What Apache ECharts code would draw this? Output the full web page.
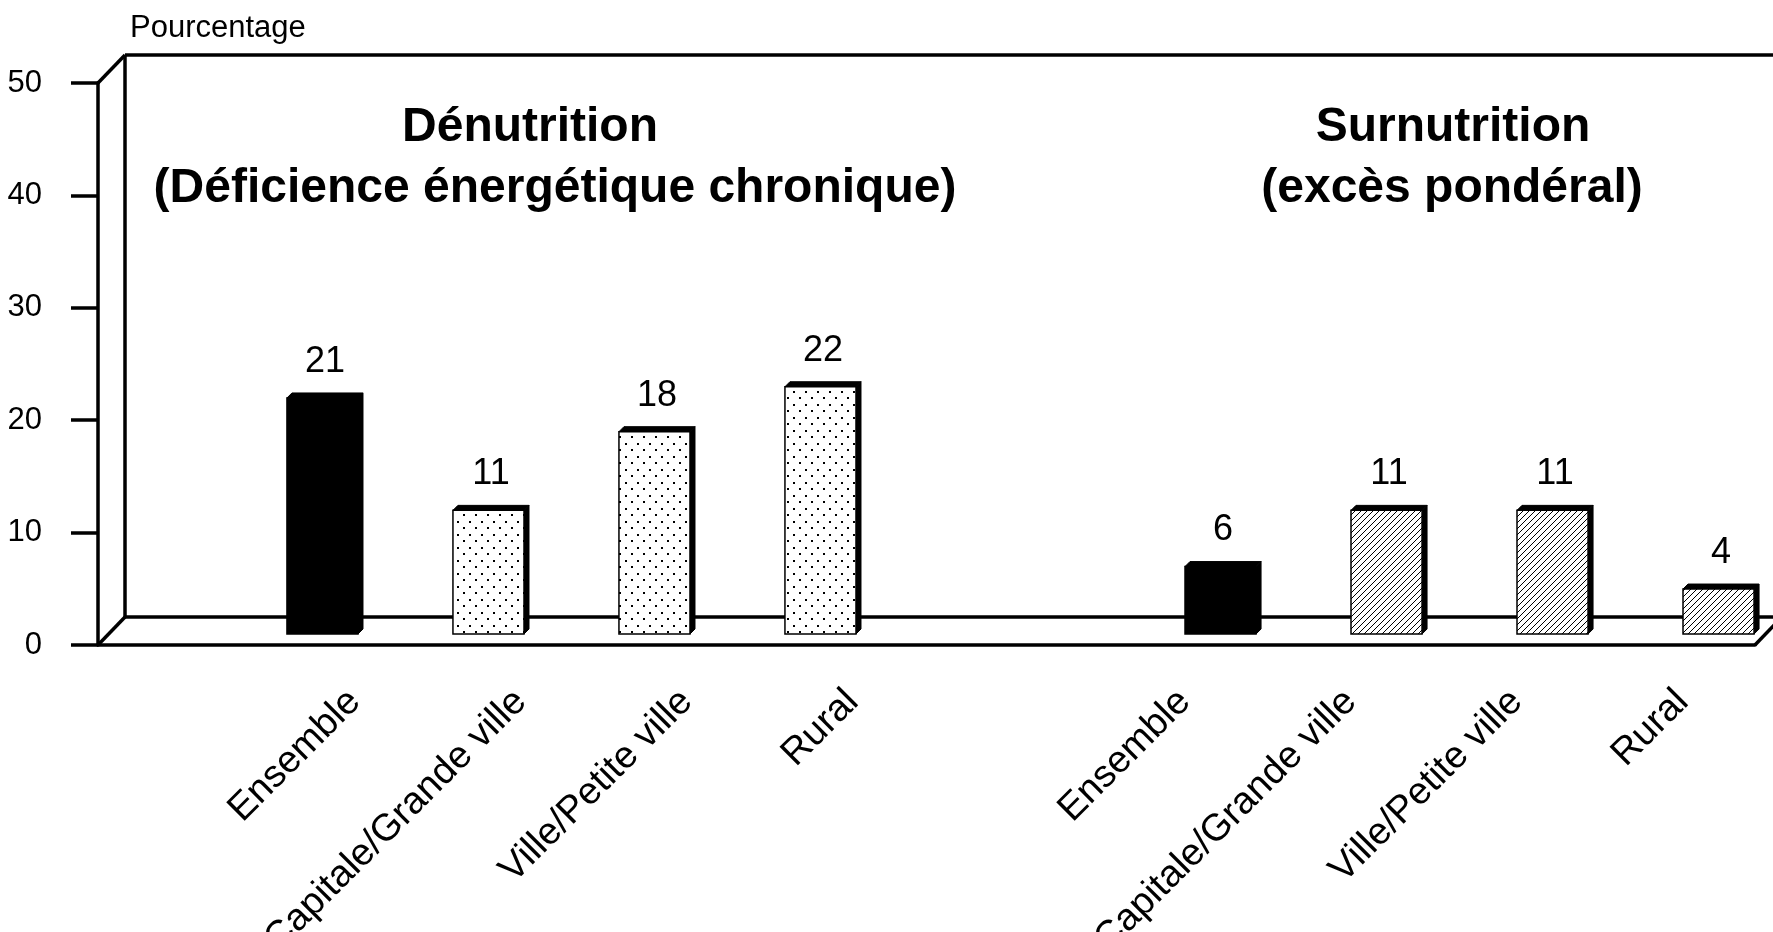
<!DOCTYPE html>
<html><head><meta charset="utf-8">
<script src="https://cdn.jsdelivr.net/npm/echarts@6/dist/echarts.min.js"></script>
<style>html,body{margin:0;padding:0;background:#fff}#c{width:1773px;height:932px}</style>
</head><body><div id="c"></div>
<script>
// ---- data ----
const categories = ['Ensemble', 'Capitale/Grande ville', 'Ville/Petite ville', 'Rural'];
const groupTitles = ['Dénutrition', 'Surnutrition'];
const groupSubtitles = ['(Déficience énergétique chronique)', '(excès pondéral)'];
const denutrition = [21, 11, 18, 22];
const surnutrition = [6, 11, 11, 4];
const yTicks = [0, 10, 20, 30, 40, 50];
const yAxisName = 'Pourcentage';

// ---- layout constants ----
const FONT = '"Liberation Sans", Arial, Helvetica, sans-serif';
const X_MIN = -1.286, X_MAX = 8.696;
const BAR_GROUP_OFFSET = 5.41;   // bars of 2nd group
const LABEL_GROUP_OFFSET = 5;    // labels of 2nd group
const BAR_W = 0.428;
const PLANE = [11, -11];         // bars sit mid-depth
const DEPTH = [27, -28];         // box depth
const BAR_D = 5;                 // bar depth
const LW = 3.5;

function makeDots() {
  const w = 12, h = 13;
  const c = document.createElement('canvas'); c.width = w; c.height = h;
  const x = c.getContext('2d'); x.fillStyle = '#fff'; x.fillRect(0, 0, w, h);
  x.fillStyle = '#000'; x.fillRect(1, 1, 2, 2); x.fillRect(7, 7, 2, 2);
  return c;
}
function makeHatch() {
  const s = 6; const c = document.createElement('canvas'); c.width = s; c.height = s;
  const x = c.getContext('2d'); x.fillStyle = '#fff'; x.fillRect(0, 0, s, s);
  x.strokeStyle = '#000'; x.lineWidth = 1; x.beginPath();
  x.moveTo(0, s); x.lineTo(s, 0); x.moveTo(-1, 1); x.lineTo(1, -1); x.moveTo(s - 1, s + 1); x.lineTo(s + 1, s - 1);
  x.stroke(); return c;
}
const dotPattern = { image: makeDots(), repeat: 'repeat' };
const hatchPattern = { image: makeHatch(), repeat: 'repeat' };

const series = [denutrition, surnutrition];
const barData = [], labelData = [];
series.forEach((vals, g) => vals.forEach((v, c) => {
  barData.push([c + g * BAR_GROUP_OFFSET, v, g, c]);
  labelData.push([c + g * LABEL_GROUP_OFFSET, 0, g, c]);
}));

function renderFrame(params, api) {
  const top = yTicks[yTicks.length - 1];
  const a0 = api.coord([X_MIN, 0]), a50 = api.coord([X_MIN, top]);
  const b0 = api.coord([X_MAX, 0]), b50 = api.coord([X_MAX, top]);
  const sh = p => [p[0] + DEPTH[0], p[1] + DEPTH[1]];
  const line = (p, q) => ({ type: 'line', shape: { x1: p[0], y1: p[1], x2: q[0], y2: q[1] }, style: { stroke: '#000', lineWidth: LW } });
  return { type: 'group', children: [
    line(a0, sh(a0)), line(a50, sh(a50)), line(b0, sh(b0)),
    line(sh(a0), sh(a50)), line(sh(a50), sh(b50)), line(sh(a0), sh(b0))
  ] };
}

function renderBar(params, api) {
  const pos = api.value(0), v = api.value(1), g = api.value(2), c = api.value(3);
  const tl = api.coord([pos - BAR_W / 2, v]);
  const br = api.coord([pos + BAR_W / 2, 0]);
  const x0 = tl[0] + PLANE[0], x1 = br[0] + PLANE[0], y0 = tl[1] + PLANE[1], y1 = br[1] + PLANE[1];
  const d = BAR_D;
  const fill = c === 0 ? '#000' : (g === 0 ? dotPattern : hatchPattern);
  return { type: 'group', children: [
    { type: 'polygon', shape: { points: [[x0, y0], [x0 + d, y0 - d], [x1 + d, y0 - d], [x1, y0]] }, style: { fill: '#000', stroke: '#000', lineWidth: 1 } },
    { type: 'polygon', shape: { points: [[x1, y0], [x1 + d, y0 - d], [x1 + d, y1 - d], [x1, y1]] }, style: { fill: '#000', stroke: '#000', lineWidth: 1 } },
    { type: 'rect', shape: { x: x0, y: y0, width: x1 - x0, height: y1 - y0 }, style: { fill: fill, stroke: '#000', lineWidth: 1.5 } },
    { type: 'text', style: { text: String(v), x: (x0 + x1 + d) / 2, y: y0 - d - 13, align: 'center', verticalAlign: 'bottom', font: '36px ' + FONT, fill: '#000' } }
  ] };
}

function renderCatLabel(params, api) {
  const pos = api.value(0), c = api.value(3);
  const p = api.coord([pos, 0]);
  return { type: 'text', x: p[0] + 43, y: p[1] + 51, rotation: Math.PI / 4,
    style: { text: categories[c], x: 0, y: 0, align: 'right', verticalAlign: 'middle', font: '38px ' + FONT, fill: '#000' } };
}

const chart = echarts.init(document.getElementById('c'), null, { renderer: 'canvas' });
chart.setOption({
  backgroundColor: '#fff',
  animation: false,
  grid: { left: 98, right: 18, top: 83, bottom: 287, containLabel: false },
  xAxis: { type: 'value', min: X_MIN, max: X_MAX, axisLine: { show: true, onZero: false, lineStyle: { color: '#000', width: LW } },
    axisTick: { show: false }, axisLabel: { show: false }, splitLine: { show: false } },
  yAxis: { type: 'value', min: yTicks[0], max: yTicks[yTicks.length - 1], interval: 10,
    axisLine: { show: true, onZero: false, lineStyle: { color: '#000', width: LW } },
    axisTick: { show: true, length: 27, lineStyle: { color: '#000', width: LW } },
    axisLabel: { margin: 56, fontSize: 31, color: '#000', fontFamily: FONT },
    splitLine: { show: false } },
  graphic: [
    { type: 'text', left: 130, top: 13, style: { text: yAxisName, font: '31px ' + FONT, fill: '#000' } },
    { type: 'text', x: 530, y: 128, style: { text: groupTitles[0], align: 'center', verticalAlign: 'middle', font: 'bold 48px ' + FONT, fill: '#000' } },
    { type: 'text', x: 555, y: 189, style: { text: groupSubtitles[0], align: 'center', verticalAlign: 'middle', font: 'bold 48px ' + FONT, fill: '#000' } },
    { type: 'text', x: 1453, y: 128, style: { text: groupTitles[1], align: 'center', verticalAlign: 'middle', font: 'bold 48px ' + FONT, fill: '#000' } },
    { type: 'text', x: 1452, y: 189, style: { text: groupSubtitles[1], align: 'center', verticalAlign: 'middle', font: 'bold 48px ' + FONT, fill: '#000' } }
  ],
  series: [
    { type: 'custom', name: 'frame', renderItem: renderFrame, data: [[X_MIN, 0]], z: 1, silent: true },
    { type: 'custom', name: 'bars', renderItem: renderBar, data: barData, z: 3 },
    { type: 'custom', name: 'labels', renderItem: renderCatLabel, data: labelData, z: 3, silent: true }
  ]
});
</script></body></html>
